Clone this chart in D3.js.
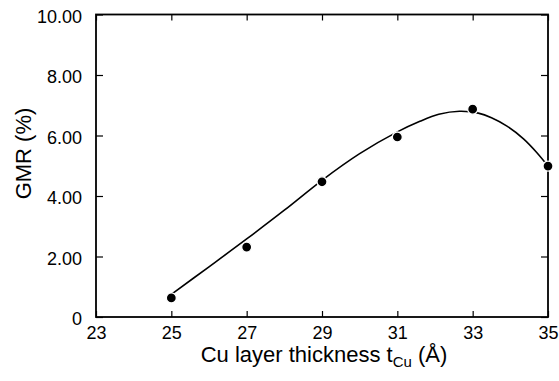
<!DOCTYPE html>
<html><head><meta charset="utf-8">
<script src="https://cdn.jsdelivr.net/npm/d3@7"></script>
<style>body{margin:0;background:#fff}svg{display:block}text{font-family:"Liberation Sans",Arial,sans-serif;fill:#000}</style>
</head><body><svg id="c" width="559" height="381"></svg>
<script>
const thickness = [25, 27, 29, 31, 33, 35];
const gmr = [0.63, 2.31, 4.47, 5.95, 6.87, 4.99];
const fitX = [25, 26, 27, 28, 29, 30, 31, 31.6, 32.1, 32.65, 33.15, 33.5, 33.9, 34.35, 34.7, 35];
const fitY = [0.75, 1.66, 2.58, 3.53, 4.52, 5.40, 6.12, 6.47, 6.70, 6.80, 6.74, 6.59, 6.32, 5.89, 5.44, 4.99];
const xTicks = [23, 25, 27, 29, 31, 33, 35];
const yTicks = [0, 2, 4, 6, 8, 10];
const yTickLabels = ["0", "2.00", "4.00", "6.00", "8.00", "10.00"];

const svg = d3.select("#c");
const L = 96, R = 548, T = 14.5, B = 317;
const x = d3.scaleLinear().domain([23, 35]).range([L, R]);
const y = d3.scaleLinear().domain([0, 10]).range([B, T]);

const fs = 18;
const ax = d3.axisBottom(x).tickValues(xTicks).tickSizeInner(-6).tickSizeOuter(0).tickPadding(9).tickFormat(d3.format("d"));
const gx = svg.append("g").attr("transform", `translate(0,${B})`).call(ax);
const gxt = svg.append("g").attr("transform", `translate(0,${T})`).call(d3.axisTop(x).tickValues(xTicks).tickSizeInner(-6).tickSizeOuter(0).tickFormat(""));
const ay = d3.axisLeft(y).tickValues(yTicks).tickSizeInner(-7).tickSizeOuter(0).tickPadding(14).tickFormat((d,i)=>yTickLabels[i]);
const gy = svg.append("g").attr("transform", `translate(${L},0)`).call(ay);
const gyr = svg.append("g").attr("transform", `translate(${R},0)`).call(d3.axisRight(y).tickValues(yTicks).tickSizeInner(-7).tickSizeOuter(0).tickFormat(""));
[gx, gxt, gy, gyr].forEach(g => {
  g.select(".domain").remove();
  g.selectAll(".tick line").attr("stroke", "#000").attr("stroke-width", 1.2);
  g.selectAll("text").style("font-size", fs + "px").style("font-family", '"Liberation Sans",Arial,sans-serif').attr("fill", "#000");
});
gy.selectAll("text").attr("dy", "0.42em");
svg.append("rect").attr("x", L).attr("y", T).attr("width", R - L).attr("height", B - T)
  .attr("fill", "none").attr("stroke", "#000").attr("stroke-width", 1.8);

const fit = fitX.map((v, i) => [v, fitY[i]]);
svg.append("path").datum(fit)
  .attr("d", d3.line().x(d => x(d[0])).y(d => y(d[1])).curve(d3.curveCatmullRom.alpha(0.5)))
  .attr("fill", "none").attr("stroke", "#000").attr("stroke-width", 1.6);

svg.selectAll("circle.pt").data(thickness).join("circle")
  .attr("class", "pt")
  .attr("cx", d => x(d)).attr("cy", (d, i) => y(gmr[i])).attr("r", 5)
  .attr("fill", "#000").attr("stroke", "#fff").attr("stroke-width", 1.3);

const xt = svg.append("text").attr("x", 324).attr("y", 362).attr("text-anchor", "middle").style("font-size", "22px");
xt.append("tspan").text("Cu layer thickness t");
xt.append("tspan").text("Cu").style("font-size", "15px").attr("dy", 5);
xt.append("tspan").text(" (Å)").attr("dy", -5);

svg.append("text").attr("transform", "translate(31,153.5) rotate(-90)").attr("text-anchor", "middle")
  .style("font-size", "22px").text("GMR (%)");
</script></body></html>
